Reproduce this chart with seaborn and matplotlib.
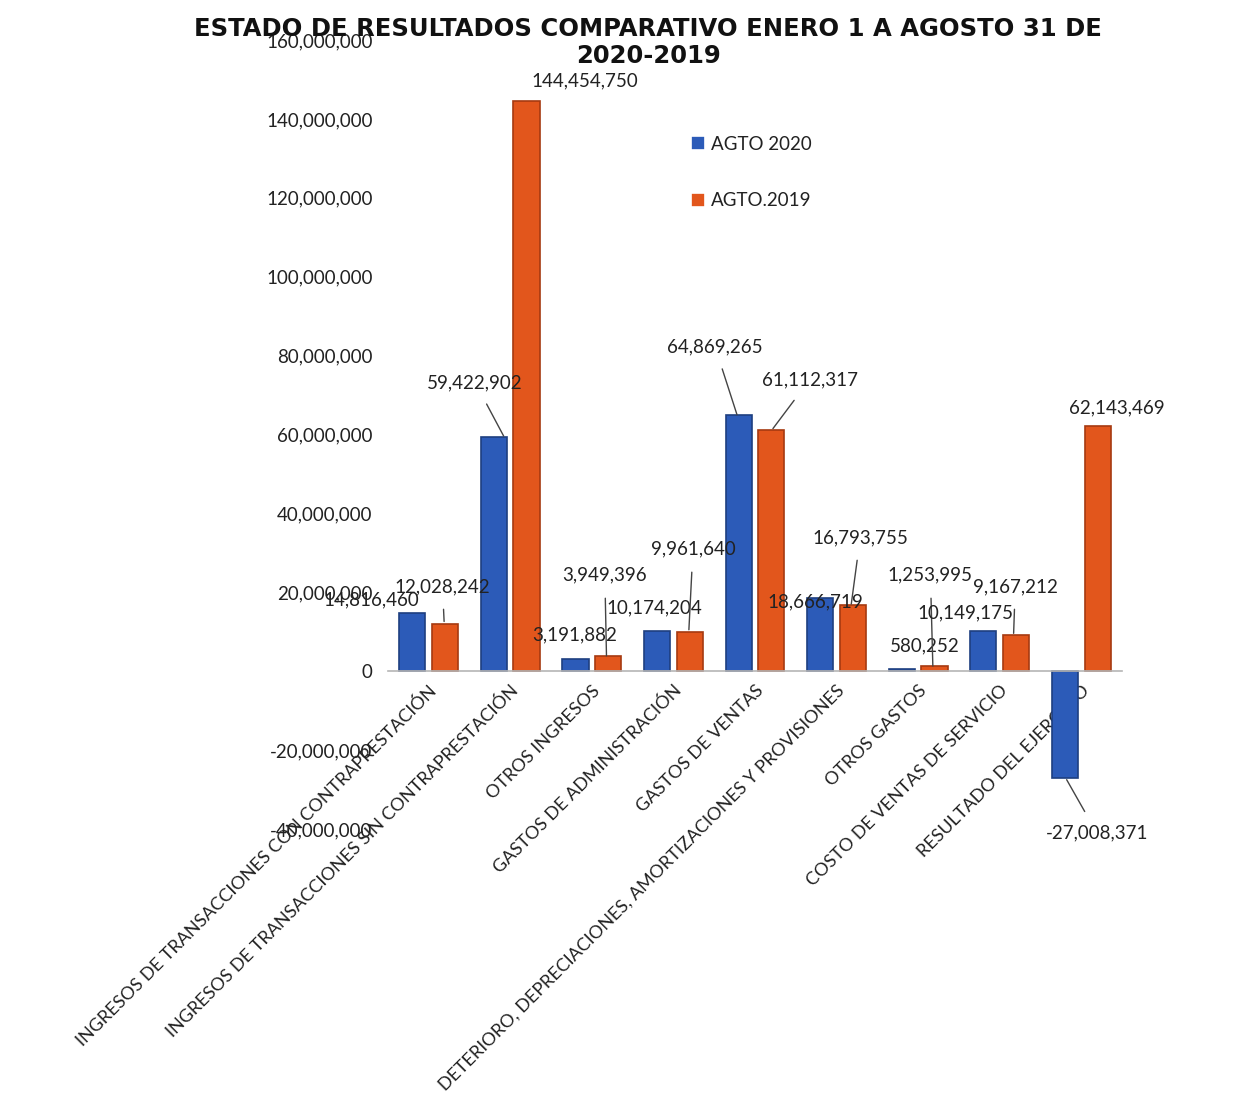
import pandas as pd
import matplotlib.pyplot as plt
import seaborn as sns

categorias = [
    "INGRESOS DE TRANSACCIONES CON CONTRAPRESTACIÓN",
    "INGRESOS DE TRANSACCIONES SIN CONTRAPRESTACIÓN",
    "OTROS INGRESOS",
    "GASTOS DE ADMINISTRACIÓN",
    "GASTOS DE VENTAS",
    "DETERIORO, DEPRECIACIONES, AMORTIZACIONES Y PROVISIONES",
    "OTROS GASTOS",
    "COSTO DE VENTAS DE SERVICIO",
    "RESULTADO DEL EJERCICIO",
]
agto_2020 = [14816460, 59422902, 3191882, 10174204, 64869265,
             18666719, 580252, 10149175, -27008371]
agto_2019 = [12028242, 144454750, 3949396, 9961640, 61112317,
             16793755, 1253995, 9167212, 62143469]
series = ["AGTO 2020", "AGTO.2019"]
colores = ["#2C5BB8", "#E2561C"]
bordes = ["#1E3F80", "#A63A10"]

df = pd.DataFrame({
    "cat": categorias * 2,
    "valor": agto_2020 + agto_2019,
    "serie": [series[0]] * 9 + [series[1]] * 9,
})

sns.set_style("white")
plt.rcParams["font.family"] = ["Lato", "DejaVu Sans"]

fig = plt.figure(figsize=(12.51, 10.97), dpi=100)
ax = fig.add_axes([0.310, 0.2443, 0.587, 0.7192])

sns.barplot(data=df, x="cat", y="valor", hue="serie", hue_order=series,
            palette=colores, width=0.8, gap=0.2, ax=ax, errorbar=None,
            linewidth=1.2, saturation=1)
for cont, bc in zip(ax.containers, bordes):
    for p in cont:
        p.set_edgecolor(bc)

ax.set_ylim(-40e6, 160e6)
ax.set_xlim(-0.5, 8.5)
ax.set_yticks(range(-40000000, 160000001, 20000000))
ax.set_yticklabels([f"{v:,}" for v in range(-40000000, 160000001, 20000000)],
                   fontsize=13.5, color="#222222")
ax.tick_params(axis="y", length=0, pad=11)

for s in ["left", "top", "right"]:
    ax.spines[s].set_visible(False)
ax.spines["bottom"].set_position(("data", 0))
ax.spines["bottom"].set_color("#b5b5b5")
ax.spines["bottom"].set_linewidth(1.2)

ax.set_xticks(range(9))
ax.set_xticklabels(categorias, rotation=45, ha="right", va="top",
                   rotation_mode="anchor", fontsize=13, color="#222222")
ax.set_xticks([i - 0.5 for i in range(10)], minor=True)
ax.tick_params(axis="x", which="major", length=0, pad=8)
ax.tick_params(axis="x", which="minor", length=5, color="#b5b5b5", direction="out")
ax.set_xlabel("")
ax.set_ylabel("")

# etiquetas de datos (valor, posicion etiqueta, punto de la linea guia o None)
etiquetas = [
    (agto_2020[0], (-0.70, 18.0e6), None),
    (agto_2019[0], (0.17, 21.5e6), (0.19, 12.6e6)),
    (agto_2020[1], (0.57, 73.2e6), (0.92, 59.6e6)),
    (agto_2019[1], (1.92, 149.6e6), None),
    (agto_2020[2], (1.79, 9.1e6), None),
    (agto_2019[2], (2.16, 24.3e6), (2.18, 3.9e6)),
    (agto_2020[3], (2.77, 16.0e6), None),
    (agto_2019[3], (3.24, 30.9e6), (3.19, 10.5e6)),
    (agto_2020[4], (3.51, 82.3e6), (3.78, 65.0e6)),
    (agto_2019[4], (4.67, 73.9e6), (4.22, 61.5e6)),
    (agto_2020[5], (4.74, 17.7e6), None),
    (agto_2019[5], (5.29, 33.9e6), (5.18, 17.0e6)),
    (agto_2020[6], (6.08, 6.3e6), None),
    (agto_2019[6], (6.15, 24.3e6), (6.18, 1.3e6)),
    (agto_2020[7], (6.58, 14.9e6), None),
    (agto_2019[7], (7.19, 21.5e6), (7.17, 9.6e6)),
    (agto_2019[8], (8.44, 66.8e6), None),
    (agto_2020[8], (8.19, -41.0e6), (7.82, -27.5e6)),
]
for val, pos, guia in etiquetas:
    if guia is None:
        ax.text(pos[0], pos[1], f"{val:,}", ha="center", va="center",
                fontsize=13.5, color="#222222", clip_on=False)
    else:
        ax.annotate(f"{val:,}", xy=guia, xytext=pos, ha="center", va="center",
                    fontsize=13.5, color="#222222", annotation_clip=False,
                    arrowprops=dict(arrowstyle="-", color="#444444", lw=1,
                                    shrinkA=8, shrinkB=0))

ax.legend(loc="upper left", bbox_to_anchor=(0.39, 0.90), frameon=False,
          fontsize=13.5, labelspacing=2.1, handlelength=0.75, handleheight=0.75,
          handletextpad=0.3, labelcolor="#222222")

fig.text(0.518, 0.974, "ESTADO DE RESULTADOS COMPARATIVO ENERO 1 A AGOSTO 31 DE",
         ha="center", va="center", fontsize=17.5, fontweight="bold",
         family="DejaVu Sans", color="#111111")
fig.text(0.518, 0.949, "2020-2019", ha="center", va="center", fontsize=17.5,
         fontweight="bold", family="DejaVu Sans", color="#111111")

fig.savefig("out.png", dpi=100, facecolor="white")
